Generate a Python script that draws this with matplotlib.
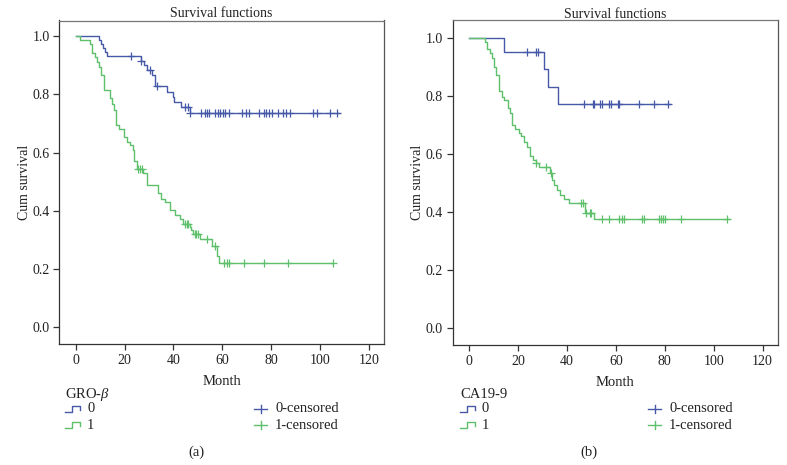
import numpy as np
import matplotlib
matplotlib.use("Agg")
import matplotlib.pyplot as plt
from matplotlib.lines import Line2D

plt.rcParams['font.family'] = ['Liberation Serif', 'DejaVu Serif']
plt.rcParams['mathtext.fontset'] = 'custom'
plt.rcParams['mathtext.rm'] = 'Liberation Serif'
plt.rcParams['mathtext.it'] = 'Liberation Serif:italic'

# ---------------- data (a) GRO-beta ----------------
months_a0 = [0, 9.6, 10.5, 11.2, 11.9, 12.8, 26.6, 27.9, 29.3, 31.4, 32.4, 37.4, 39.9, 40.4, 43.2, 46.7]
surv_a0 = [1.0, 0.986, 0.973, 0.958, 0.946, 0.931, 0.915, 0.900, 0.883, 0.866, 0.827, 0.809, 0.790, 0.775, 0.755, 0.735]
cens_a0 = [22.8, 26.6, 30.3, 33.1, 44.7, 46.0, 47.0, 51.1, 52.9, 53.7, 54.5, 57.1, 58.3, 59.2, 60.2, 61.3,
           62.8, 67.9, 69.7, 70.9, 75.0, 77.1, 78.0, 79.1, 80.3, 82.9, 85.0, 85.9, 87.7, 97.0, 98.9, 104.1, 106.8]
end_a0 = 107.9

months_a1 = [0, 1.6, 6.0, 6.7, 7.8, 8.7, 9.6, 10.5, 11.6, 13.9, 14.9, 15.7, 16.7, 17.8, 19.7, 21.0, 22.1, 23.5,
             23.9, 25.3, 27.6, 29.0, 33.8, 35.1, 36.5, 38.5, 40.6, 42.6, 44.0, 46.7, 47.4, 48.2, 50.8, 55.6, 57.9, 58.7]
surv_a1 = [1.0, 0.986, 0.973, 0.943, 0.929, 0.912, 0.895, 0.866, 0.815, 0.786, 0.767, 0.746, 0.694, 0.679, 0.654,
           0.637, 0.626, 0.609, 0.572, 0.542, 0.529, 0.489, 0.460, 0.440, 0.430, 0.403, 0.385, 0.371, 0.355, 0.345,
           0.334, 0.320, 0.303, 0.280, 0.245, 0.221]
cens_a1 = [25.5, 26.5, 27.3, 44.7, 45.4, 46.0, 48.8, 49.4, 50.1, 53.8, 56.9, 60.8, 61.8, 62.7, 69.0, 76.9, 87.0, 105.2]
end_a1 = 105.5

# ---------------- data (b) CA19-9 ----------------
months_b0 = [0, 14.4, 30.6, 32.3, 36.5]
surv_b0 = [1.0, 0.951, 0.892, 0.831, 0.771]
cens_b0 = [23.7, 27.5, 28.3, 47.1, 50.5, 51.2, 53.6, 54.3, 57.4, 58.0, 60.8, 61.4, 69.6, 75.5, 81.3]
end_b0 = 82.0

months_b1 = [0, 6.4, 7.35, 8.4, 9.4, 10.35, 11.2, 12.1, 13.5, 14.4, 15.8, 16.9, 17.6, 18.9, 20.3, 21.2, 22.3,
             23.7, 24.8, 26.1, 27.2, 28.5, 33.2, 33.9, 34.9, 35.9, 37.3, 38.7, 40.7, 47.5, 51.2]
surv_b1 = [1.0, 0.987, 0.961, 0.947, 0.930, 0.901, 0.872, 0.815, 0.797, 0.786, 0.757, 0.740, 0.700, 0.685,
           0.671, 0.660, 0.642, 0.625, 0.593, 0.579, 0.567, 0.556, 0.533, 0.510, 0.493, 0.475, 0.458, 0.444,
           0.429, 0.397, 0.374]
cens_b1 = [27.2, 31.6, 33.3, 45.8, 46.4, 47.9, 49.3, 49.9, 54.3, 57.3, 61.5, 62.5, 63.3, 70.8, 71.4, 77.5,
           78.5, 79.3, 80.2, 86.6, 105.4]
end_b1 = 106.4

x_ticks = [0, 20, 40, 60, 80, 100, 120]
y_ticks = [0.0, 0.2, 0.4, 0.6, 0.8, 1.0]

BLUE = '#4658a8'
GREEN = '#5fc06c'
W, H = 787, 465

fig = plt.figure(figsize=(W / 100, H / 100), dpi=100)


def fx(px):
    return px / W


def fy(py):
    return 1 - py / H


def km(ax, months, surv, cens, end, color):
    xs = list(months) + [end]
    ys = list(surv) + [surv[-1]]
    ax.step(xs, ys, where='post', color=color, lw=1.0)
    m = np.asarray(months)
    s = np.asarray(surv)
    idx = np.searchsorted(m, np.asarray(cens), side='right') - 1
    ax.plot(cens, s[idx], ls='none', marker='+', ms=5.5, mew=0.9, color=color)


def style(ax, ylim):
    ax.set_xlim(-6.7, 126.2)
    ax.set_ylim(*ylim)
    ax.set_xticks(x_ticks)
    ax.set_yticks(y_ticks)
    ax.set_yticklabels([f"{v:.1f}" for v in y_ticks])
    for sp in ['top', 'right', 'left', 'bottom']:
        ax.spines[sp].set_color('#333333')
        ax.spines[sp].set_linewidth(0.9)
    ax.spines['top'].set_color('#777777')
    ax.spines['right'].set_color('#555555')
    ax.tick_params(direction='out', length=4, width=0.9, color='#333333',
                   labelsize=10, labelcolor='#222222', pad=3)
    ax.tick_params(top=False, right=False)
    ax.set_title('Survival functions', fontsize=10, color='#222222', pad=2)
    ax.set_xlabel('Month', fontsize=10.5, color='#222222', labelpad=6)
    ax.set_ylabel('Cum survival', fontsize=10, color='#222222', labelpad=1)


axA = fig.add_axes([fx(59.3), fy(344), fx(384) - fx(59.3), fy(20.5) - fy(344)])
km(axA, months_a0, surv_a0, cens_a0, end_a0, BLUE)
km(axA, months_a1, surv_a1, cens_a1, end_a1, GREEN)
style(axA, (-0.057, 1.053))

axB = fig.add_axes([fx(452.7), fy(345), fx(777.7) - fx(452.7), fy(20.5) - fy(345)])
km(axB, months_b0, surv_b0, cens_b0, end_b0, BLUE)
km(axB, months_b1, surv_b1, cens_b1, end_b1, GREEN)
style(axB, (-0.06, 1.06))


def legend(x0, title, xc):
    fs = 10.5
    fig.text(fx(x0), fy(394), title, fontsize=fs, color='#222222', va='center', ha='left')
    for i, (lab, col) in enumerate([('0', BLUE), ('1', GREEN)]):
        yy = 409 + 16 * i
        # step-shaped line symbol
        xs = [x0, x0 + 7, x0 + 7, x0 + 15, x0 + 15]
        ys = [yy + 3, yy + 3, yy - 3, yy - 3, yy + 1]
        fig.add_artist(Line2D([fx(v) for v in xs], [fy(v) for v in ys], color=col, lw=1.0))
        fig.text(fx(x0 + 22), fy(yy), lab, fontsize=fs, color='#222222', va='center', ha='left')
        # censored symbol
        fig.add_artist(Line2D([fx(xc), fx(xc + 13)], [fy(yy), fy(yy)], color=col, lw=1.0))
        fig.add_artist(Line2D([fx(xc + 6.5), fx(xc + 6.5)], [fy(yy - 4), fy(yy + 4)], color=col, lw=1.0))
        fig.text(fx(xc + 21), fy(yy), f'{lab}-censored', fontsize=fs, color='#222222', va='center', ha='left')


legend(65, 'GRO-$\\beta$', 254)
legend(460, 'CA19-9', 648)

fig.text(fx(196), fy(452), '(a)', fontsize=10.5, color='#222222', ha='center', va='center')
fig.text(fx(589), fy(452), '(b)', fontsize=10.5, color='#222222', ha='center', va='center')

fig.savefig('out.png', dpi=100)
